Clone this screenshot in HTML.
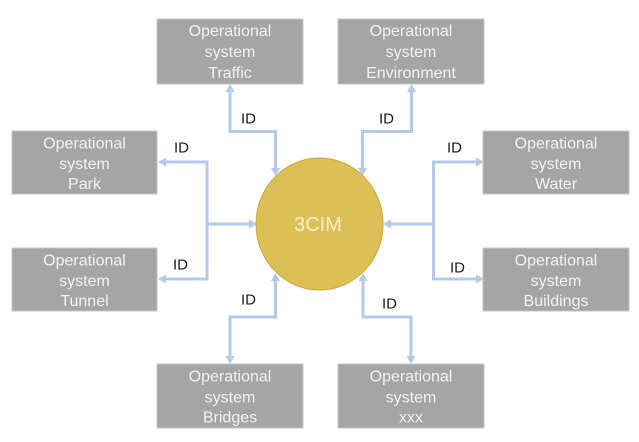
<!DOCTYPE html>
<html>
<head>
<meta charset="utf-8">
<style>
html,body{margin:0;padding:0;background:#fff;}
svg{display:block;}
.box{fill:#a5a5a5;stroke:#c4c4c4;stroke-width:1;}
.bt{fill:#f2f2f2;font-family:"Liberation Sans",sans-serif;font-size:16px;text-anchor:middle;}
.ln{fill:none;stroke:#b4c8ec;stroke-width:3;}
.ar{fill:#b4c8ec;}
.id{fill:#1a1a1a;font-family:"Liberation Sans",sans-serif;font-size:15px;}
</style>
</head>
<body>
<svg width="639" height="442" viewBox="0 0 639 442" xmlns="http://www.w3.org/2000/svg">
<rect x="0" y="0" width="639" height="442" fill="#fff"/>

<!-- connectors -->
<path class="ln" d="M230,91 V131.5 H275.5 V169"/>
<polygon class="ar" points="230,84 225.5,92 234.5,92"/>
<polygon class="ar" points="275.5,176 271,168 280,168"/>

<path class="ln" d="M411.5,91 V131.5 H362.5 V169"/>
<polygon class="ar" points="411.5,84 407,92 416,92"/>
<polygon class="ar" points="362.5,176 358,168 367,168"/>

<path class="ln" d="M166,162 H207 V279 H166"/>
<path class="ln" d="M207,224 H249"/>
<polygon class="ar" points="158,162 166,157.5 166,166.5"/>
<polygon class="ar" points="158,279 166,274.5 166,283.5"/>
<polygon class="ar" points="257,224 249,219.5 249,228.5"/>

<path class="ln" d="M476,162 H433.5 V279 H476"/>
<path class="ln" d="M433.5,224 H391"/>
<polygon class="ar" points="484,162 476,157.5 476,166.5"/>
<polygon class="ar" points="484,279 476,274.5 476,283.5"/>
<polygon class="ar" points="383,224 391,219.5 391,228.5"/>

<path class="ln" d="M275.5,280 V317 H230 V357"/>
<polygon class="ar" points="275.5,273 271,281 280,281"/>
<polygon class="ar" points="230,364 225.5,356 234.5,356"/>

<path class="ln" d="M363,280 V317 H411 V357"/>
<polygon class="ar" points="363,273 358.5,281 367.5,281"/>
<polygon class="ar" points="411,364 406.5,356 415.5,356"/>

<!-- center -->
<ellipse cx="319.5" cy="224" rx="63.5" ry="66" fill="#dcbf55" stroke="#c9a93f" stroke-width="1"/>
<text x="318" y="231" fill="#f7f0d2" font-family="Liberation Sans, sans-serif" font-size="20" text-anchor="middle">3CIM</text>

<!-- boxes -->
<rect class="box" x="157" y="19" width="146" height="65"/>
<text class="bt" x="230" y="36">Operational</text>
<text class="bt" x="230" y="57">system</text>
<text class="bt" x="230" y="78">Traffic</text>

<rect class="box" x="338" y="19" width="146" height="65"/>
<text class="bt" x="411" y="36">Operational</text>
<text class="bt" x="411" y="57">system</text>
<text class="bt" x="411" y="78">Environment</text>

<rect class="box" x="12" y="131" width="145" height="63"/>
<text class="bt" x="84.5" y="148.5">Operational</text>
<text class="bt" x="84.5" y="169">system</text>
<text class="bt" x="84.5" y="189">Park</text>

<rect class="box" x="12" y="248" width="145" height="63"/>
<text class="bt" x="84.5" y="265.5">Operational</text>
<text class="bt" x="84.5" y="286">system</text>
<text class="bt" x="84.5" y="306">Tunnel</text>

<rect class="box" x="483" y="131" width="146" height="63"/>
<text class="bt" x="556" y="148.5">Operational</text>
<text class="bt" x="556" y="169">system</text>
<text class="bt" x="556" y="189">Water</text>

<rect class="box" x="483" y="248" width="146" height="63"/>
<text class="bt" x="556" y="265.5">Operational</text>
<text class="bt" x="556" y="286">system</text>
<text class="bt" x="556" y="306">Buildings</text>

<rect class="box" x="157" y="364" width="146" height="64"/>
<text class="bt" x="230" y="381.5">Operational</text>
<text class="bt" x="230" y="402.5">system</text>
<text class="bt" x="230" y="422.5">Bridges</text>

<rect class="box" x="338" y="364" width="146" height="64"/>
<text class="bt" x="411" y="381.5">Operational</text>
<text class="bt" x="411" y="402.5">system</text>
<text class="bt" x="411" y="422.5">xxx</text>

<!-- ID labels -->
<text class="id" x="241" y="123.5">ID</text>
<text class="id" x="379" y="123.5">ID</text>
<text class="id" x="174" y="152.5">ID</text>
<text class="id" x="173" y="269.5">ID</text>
<text class="id" x="447" y="152.5">ID</text>
<text class="id" x="450" y="272.5">ID</text>
<text class="id" x="241" y="304.5">ID</text>
<text class="id" x="382" y="308.5">ID</text>
</svg>
</body>
</html>
